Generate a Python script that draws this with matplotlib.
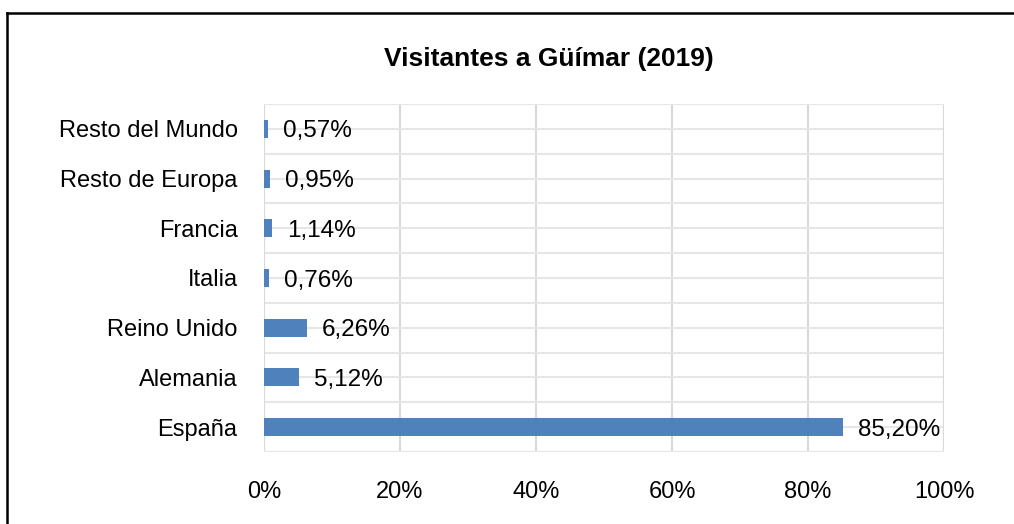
import matplotlib.pyplot as plt
from matplotlib.lines import Line2D
import numpy as np

# Datos
paises = ["Resto del Mundo", "Resto de Europa", "Francia", "Italia",
          "Reino Unido", "Alemania", "España"]
porcentajes = [0.57, 0.95, 1.14, 0.76, 6.26, 5.12, 85.20]
ticks_x = [0, 20, 40, 60, 80, 100]

plt.rcParams['font.family'] = ['Liberation Sans', 'DejaVu Sans']

fig = plt.figure(figsize=(10.14, 5.24), dpi=100)
ax = fig.add_axes([264 / 1014, 1 - 452 / 524, 680 / 1014, 348 / 524])

# Orden de arriba a abajo
y = np.arange(len(paises))[::-1]
ax.barh(y, porcentajes, height=0.36, color="#4f81bd", zorder=3)

for yi, v in zip(y, porcentajes):
    ax.text(v + 2.2, yi, f"{v:.2f}%".replace(".", ","), va="center_baseline", ha="left",
            fontsize=17.5, color="black", zorder=4)

ax.set_xlim(0, 100)
ax.set_ylim(-0.5, len(paises) - 0.5)
ax.set_xticks(ticks_x)
ax.set_xticklabels([f"{t}%" for t in ticks_x], fontsize=17)
ax.set_yticks(y)
ax.set_yticklabels(paises, fontsize=17)
ax.set_yticks(np.arange(-0.5, len(paises), 1.0), minor=True)

ax.tick_params(axis="both", which="both", length=0)
ax.tick_params(axis="x", pad=21)
ax.tick_params(axis="y", pad=19)

ax.grid(True, axis="x", color="#d9d9d9", linewidth=1.5, zorder=0)
ax.grid(True, axis="y", which="both", color="#e6e6e6", linewidth=1.5, zorder=0)
for s in ax.spines.values():
    s.set_visible(False)
ax.axvline(0, color="#d9d9d9", linewidth=1.5, zorder=2)
ax.axvline(100, color="#d9d9d9", linewidth=1.5, zorder=2)
ax.axhline(-0.5, color="#e6e6e6", linewidth=1.5, zorder=2)
ax.axhline(len(paises) - 0.5, color="#e6e6e6", linewidth=1.5, zorder=2)

fig.text(549 / 1014, 1 - 59 / 524, "Visitantes a Güímar (2019)", ha="center",
         va="center", fontsize=19, fontweight="bold")

# Borde del gráfico (solo arriba e izquierda visibles)
fig.add_artist(Line2D([7 / 1014, 1], [1 - 12.5 / 524, 1 - 12.5 / 524],
                      transform=fig.transFigure, color="black", linewidth=1.8))
fig.add_artist(Line2D([7 / 1014, 7 / 1014], [0, 1 - 12.5 / 524],
                      transform=fig.transFigure, color="black", linewidth=1.8))

fig.savefig("out.png", dpi=100)
